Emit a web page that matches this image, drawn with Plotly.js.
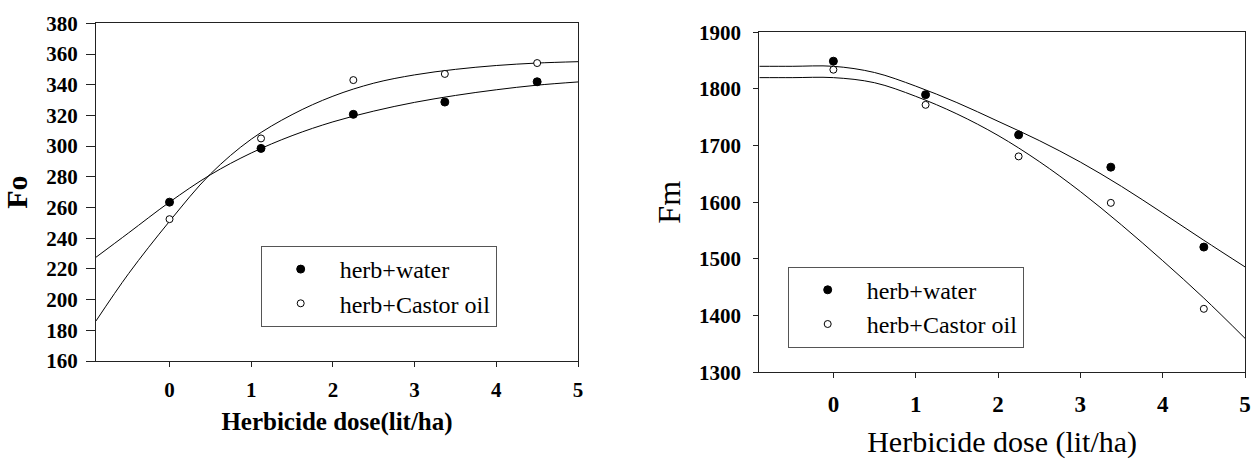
<!DOCTYPE html>
<html>
<head>
<meta charset="utf-8">
<script src="https://cdn.plot.ly/plotly-3.0.1.min.js"></script>
<style>html,body{margin:0;padding:0;background:#fff;}#chart{width:1253px;height:459px;}</style>
</head>
<body>
<div id="chart"></div>
<script>
// Measured doses (lit/ha)
const doseX = [0, 1.12, 2.25, 3.37, 4.5];
// Fo (left panel)
const foWater = [263.5, 298.5, 320.7, 328.7, 341.9];
const foCastor = [252.4, 305.0, 343.0, 347.0, 354.1];
// Fm (right panel)
const fmWater = [1849, 1790, 1719, 1662, 1521];
const fmCastor = [1834, 1772, 1681, 1599, 1412];

// Fitted curves
const curveX = [-0.9, -0.5, 0, 0.5, 1, 1.5, 2, 2.5, 3, 3.5, 4, 4.5, 5];
const foWaterFit = [227.6, 243.5, 263.5, 281.3, 295.5, 306.8, 315.8, 322.8, 328.5, 333.0, 336.7, 339.7, 341.8];
const foCastorFit = [186.1, 217.0, 251.0, 281.8, 304.5, 320.5, 332.5, 341.0, 346.4, 350.0, 352.5, 354.1, 355.0];
const fmWaterFit = [1840, 1840, 1840, 1829, 1805, 1776, 1743, 1709, 1671, 1628, 1581, 1533, 1486];
const fmCastorFit = [1820, 1820, 1820, 1811, 1787, 1756, 1718, 1672, 1619, 1560, 1497, 1431, 1360];

const seriesNames = ['herb+water', 'herb+Castor oil'];
const xTicks = [0, 1, 2, 3, 4, 5];

const SERIF = 'Liberation Serif';
const lineStyle = {color: '#000', width: 1, shape: 'spline', smoothing: 1};
const filledMarker = {symbol: 'circle', size: 8, color: '#000', line: {color: '#000', width: 1}};
const openMarker = {symbol: 'circle', size: 7, color: '#fff', line: {color: '#000', width: 1}};

const traces = [
  {x: curveX, y: foWaterFit, xaxis: 'x', yaxis: 'y', mode: 'lines', line: lineStyle, showlegend: false, hoverinfo: 'skip'},
  {x: curveX, y: foCastorFit, xaxis: 'x', yaxis: 'y', mode: 'lines', line: lineStyle, showlegend: false, hoverinfo: 'skip'},
  {x: doseX, y: foWater, xaxis: 'x', yaxis: 'y', mode: 'markers', name: seriesNames[0], marker: filledMarker, legend: 'legend'},
  {x: doseX, y: foCastor, xaxis: 'x', yaxis: 'y', mode: 'markers', name: seriesNames[1], marker: openMarker, legend: 'legend'},
  {x: curveX, y: fmWaterFit, xaxis: 'x2', yaxis: 'y2', mode: 'lines', line: lineStyle, showlegend: false, hoverinfo: 'skip'},
  {x: curveX, y: fmCastorFit, xaxis: 'x2', yaxis: 'y2', mode: 'lines', line: lineStyle, showlegend: false, hoverinfo: 'skip'},
  {x: doseX, y: fmWater, xaxis: 'x2', yaxis: 'y2', mode: 'markers', name: seriesNames[0], marker: filledMarker, legend: 'legend2'},
  {x: doseX, y: fmCastor, xaxis: 'x2', yaxis: 'y2', mode: 'markers', name: seriesNames[1], marker: openMarker, legend: 'legend2'}
];

const W = 1253, H = 459;
const axisBase = {
  showgrid: false, zeroline: false, showline: true, mirror: true,
  linecolor: '#222', linewidth: 1, ticks: 'outside', tickcolor: '#222', tickwidth: 1
};

const layout = {
  width: W, height: H,
  margin: {l: 0, r: 0, t: 0, b: 0},
  paper_bgcolor: '#fff', plot_bgcolor: '#fff',
  font: {family: SERIF, color: '#000'},
  xaxis: Object.assign({}, axisBase, {
    domain: [96 / W, 578 / W], anchor: 'y', range: [-0.9, 5], tickvals: xTicks,
    ticklen: 5, ticklabelstandoff: 5,
    tickfont: {family: SERIF, size: 21, weight: 'bold'},
    title: {text: 'Herbicide dose(lit/ha)', font: {family: SERIF, size: 25, weight: 'bold'}, standoff: 11}
  }),
  yaxis: Object.assign({}, axisBase, {
    domain: [(H - 361) / H, (H - 23.3) / H], anchor: 'x', range: [160, 380], dtick: 20,
    ticklen: 9, ticklabelstandoff: 4,
    tickfont: {family: SERIF, size: 21, weight: 'bold'},
    title: {text: 'Fo', font: {family: SERIF, size: 30, weight: 'bold'}, standoff: 10}
  }),
  xaxis2: Object.assign({}, axisBase, {
    domain: [759.3 / W, 1245 / W], anchor: 'y2', range: [-0.9, 5], tickvals: xTicks,
    ticklen: 5, ticklabelstandoff: 6,
    tickfont: {family: SERIF, size: 23, weight: 'bold'},
    title: {text: 'Herbicide dose (lit/ha)', font: {family: SERIF, size: 30}, standoff: 36}
  }),
  yaxis2: Object.assign({}, axisBase, {
    domain: [(H - 372.3) / H, (H - 32.3) / H], anchor: 'x2', range: [1300, 1900], dtick: 100,
    ticklen: 5, ticklabelstandoff: 8,
    tickfont: {family: SERIF, size: 21, weight: 'bold'},
    title: {text: 'Fm', font: {family: SERIF, size: 32}, standoff: 8}
  }),
  legend: {
    x: 260.7 / W, y: (H - 246) / H, xanchor: 'left', yanchor: 'top',
    bgcolor: '#fff', bordercolor: '#555', borderwidth: 1,
    font: {family: SERIF, size: 24, color: '#000'}, itemwidth: 68, tracegroupgap: 0
  },
  legend2: {
    x: 787.7 / W, y: (H - 266.7) / H, xanchor: 'left', yanchor: 'top',
    bgcolor: '#fff', bordercolor: '#555', borderwidth: 1,
    font: {family: SERIF, size: 24, color: '#000'}, itemwidth: 68, tracegroupgap: 0
  }
};

Plotly.newPlot('chart', traces, layout, {displayModeBar: false, staticPlot: true});
</script>
</body>
</html>
